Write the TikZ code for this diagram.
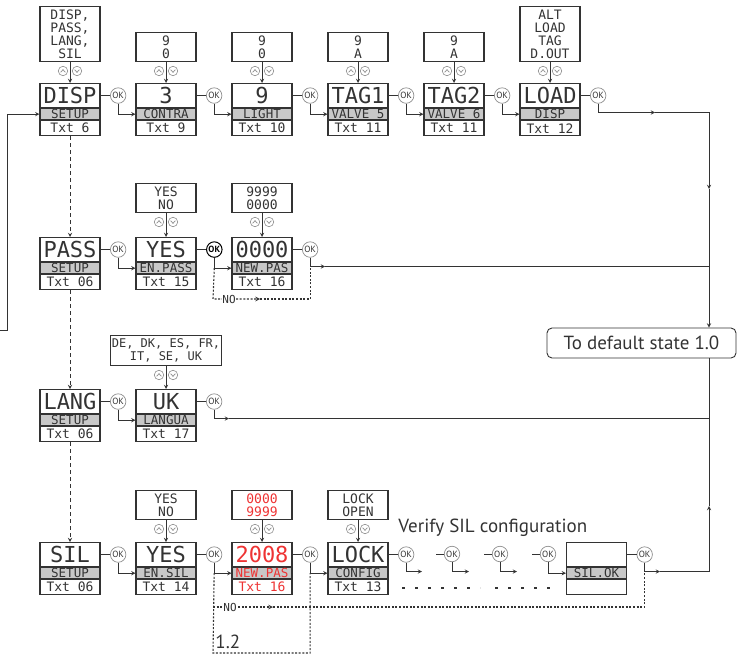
\documentclass[tikz,border=0pt]{standalone}
\usepackage{fontspec}
\setmainfont{PT Sans}
\newfontfamily\lcd{DejaVu Sans Mono}
\usepackage{tikz}
\usetikzlibrary{positioning}
\definecolor{ink}{HTML}{333333}
\definecolor{bandgray}{HTML}{C8C8C8}
\definecolor{btngray}{HTML}{8E8E8E}
\definecolor{lcdred}{HTML}{EE3333}

\newcommand{\display}[6][ink]{%
	\node[lcdtop, text=#1] (#2) at #3 {#4};
	\node[lcdband, text=#1, below=0pt of #2] (#2-b) {#5};
	\node[lcdtxt, text=#1, below=0pt of #2-b] (#2-t) {#6};
}

\begin{document}
\begin{tikzpicture}[x=1pt, y=-1pt, >=stealth, color=ink, line width=0.9pt]
	\tikzstyle{lcdtop}=[draw, line width=1.1pt, minimum width=60pt, minimum height=24pt, inner sep=0pt, anchor=north, font=\lcd\fontsize{22}{22}\selectfont]
	\tikzstyle{lcdband}=[lcdtop, fill=bandgray, minimum height=11pt, font=\lcd\fontsize{12.5}{12.5}\selectfont]
	\tikzstyle{lcdtxt}=[lcdtop, minimum height=15pt, font=\lcd\fontsize{13}{13}\selectfont]
	\tikzstyle{choice}=[draw, line width=1.1pt, minimum width=60pt, inner xsep=1pt, inner ysep=3pt, align=center, font=\lcd\fontsize{13}{13}\selectfont]
	\tikzstyle{ok}=[circle, draw=btngray, line width=0.7pt, fill=white, minimum size=15.5pt, inner sep=0pt, font=\fontsize{9}{9}\selectfont]
	\tikzstyle{okdark}=[ok, draw=black, line width=1pt, text=black, font=\bfseries\fontsize{9}{9}\selectfont]
	\tikzstyle{btn}=[circle, draw=btngray, line width=0.6pt, fill=white, minimum size=9.5pt, inner sep=0pt]
	\tikzstyle{chevron}=[btngray, line width=0.7pt]
	\tikzstyle{vdash}=[dash pattern=on 4pt off 3pt]
	\tikzstyle{nopath}=[line width=1.1pt, dash pattern=on 2pt off 1.6pt]
	\tikzstyle{dotrow}=[line width=2.6pt, dash pattern=on 2.6pt off 10.4pt]
	\tikzstyle{nolabel}=[fill=white, inner sep=0.5pt, font=\lcd\fontsize{11}{11}\selectfont]
	\tikzstyle{note}=[anchor=base west, inner sep=0pt, font=\fontsize{19}{19}\selectfont]
	\tikzstyle{dflt}=[draw, rounded corners=5pt, minimum width=189pt, minimum height=30pt, font=\fontsize{19}{19}\selectfont]
	\useasboundingbox (0,0) rectangle (738,655);

	\display{disp}{(70,83)}{DISP}{SETUP}{Txt 6}
	\display{contra}{(166,83)}{3}{CONTRA}{Txt 9}
	\display{light}{(262,83)}{9}{LIGHT}{Txt 10}
	\display{tag1}{(358,83)}{TAG1}{VALVE 5}{Txt 11}
	\display{tag2}{(454,83)}{TAG2}{VALVE 6}{Txt 11}
	\display{load}{(550,83)}{LOAD}{DISP}{Txt 12}

	\display{pass}{(70,237)}{PASS}{SETUP}{Txt 06}
	\display{yesp}{(166,237)}{YES}{EN.PASS}{Txt 15}
	\display{npas}{(262,237)}{0000}{NEW.PAS}{Txt 16}

	\display{lang}{(70,389)}{LANG}{SETUP}{Txt 06}
	\display{uk}{(166,389)}{UK}{LANGUA}{Txt 17}

	\display{sil}{(70,542)}{SIL}{SETUP}{Txt 06}
	\display{yess}{(166,542)}{YES}{EN.SIL}{Txt 14}
	\display[lcdred]{spas}{(262,542)}{2008}{NEW.PAS}{Txt 16}
	\display{lock}{(358,542)}{LOCK}{CONFIG}{Txt 13}
	\display{silok}{(596.5,542)}{}{SIL.OK}{}

	\node[choice, above=21pt of disp] (disp-c) {DISP,\\PASS,\\LANG,\\SIL};
	\node[choice, above=21pt of contra] (contra-c) {9\\0};
	\node[choice, above=21pt of light] (light-c) {9\\0};
	\node[choice, above=21pt of tag1] (tag1-c) {9\\A};
	\node[choice, above=21pt of tag2] (tag2-c) {9\\A};
	\node[choice, above=21pt of load] (load-c) {ALT\\LOAD\\TAG\\D.OUT};
	\node[choice, above=24pt of yesp] (yesp-c) {YES\\NO};
	\node[choice, above=24pt of npas] (npas-c) {9999\\0000};
	\node[choice, font=\lcd\fontsize{12}{13}\selectfont, above=23pt of uk] (uk-c) {DE, DK, ES, FR,\\IT, SE, UK};
	\node[choice, above=22pt of yess] (yess-c) {YES\\NO};
	\node[choice, text=lcdred, above=22pt of spas] (spas-c) {0000\\9999};
	\node[choice, above=22pt of lock] (lock-c) {LOCK\\OPEN};

	\foreach \d in {disp,contra,light,tag1,tag2,load,yesp,npas,uk,yess,spas,lock} {
		\draw[->] (\d-c) -- (\d);
		\node[btn] (\d-up) at ([shift={(-7,9)}]\d-c.south) {};
		\node[btn] (\d-dn) at ([shift={(7,9)}]\d-c.south) {};
		\draw[chevron] ([shift={(-2.4,1.3)}]\d-up.center) -- ++(2.4,-2.6) -- ++(2.4,2.6);
		\draw[chevron] ([shift={(-2.4,-1.3)}]\d-dn.center) -- ++(2.4,2.6) -- ++(2.4,-2.6);
	}

	\foreach \a/\b in {disp/contra, contra/light, light/tag1, tag1/tag2, tag2/load, pass/yesp, lang/uk, sil/yess, yess/spas, spas/lock} {
		\node[ok, right=9.5pt of \a] (ok-\a) {OK};
		\draw (\a) -- (ok-\a);
		\draw[->] (ok-\a) |- (\b-b);
	}
	\node[okdark, right=9.5pt of yesp] (ok-yesp) {OK};
	\draw (yesp) -- (ok-yesp);
	\draw[->] (ok-yesp) |- (npas-b);
	\foreach \a in {load, npas, uk, lock, silok} {
		\node[ok, right=9.5pt of \a] (ok-\a) {OK};
		\draw (\a) -- (ok-\a);
	}

	\foreach \x [count=\i] in {452,500,548} {
		\node[ok] (okv\i) at (\x,554) {OK};
		\draw (okv\i.west) -- ++(-8,0);
	}
	\foreach \n/\x in {ok-lock/422, okv1/469, okv2/517} {
		\coordinate (\n-e) at (\x,571.5);
		\draw[->] (\n) |- (\n-e);
	}
	\draw[->] (okv3) |- (silok-b);
	\draw[dotrow] (402,588) -- (480,588);
	\draw[dotrow] (495,588) -- (552,588);
	\node[note] (verify) at (398,532) {Verify SIL configuration};

	\draw[->, vdash] (disp-t) -- (pass);
	\draw[->, vdash] (pass-t) -- (lang);
	\draw[->, vdash] (lang-t) -- (sil);

	\coordinate (fb) at (0,330);
	\draw[->] (fb) -- ++(7,0) |- (disp-b);

	\node[dflt] (dflt) at (641.5,343) {To default state 1.0};
	\coordinate (m1) at (655,112.5);
	\coordinate (r1) at (709,112.5);
	\coordinate (m2) at (709,189);
	\coordinate (m3) at (325,266.5);
	\coordinate (r2) at (709,266.5);
	\coordinate (m4) at (229,418.5);
	\coordinate (r3) at (709,418.5);
	\coordinate (m5) at (660,571.5);
	\coordinate (r4) at (709,571.5);
	\coordinate (m6) at (709,506);
	\draw[->] (ok-load) |- (m1);
	\draw[->] (m1) -- (r1) -- (m2);
	\draw[->] (m2) -- (m2 |- dflt.north);
	\draw[->] (ok-npas) |- (m3);
	\draw (m3) -- (r2);
	\draw[->] (ok-uk) |- (m4);
	\draw (m4) -- (r3);
	\draw[->] (ok-silok) |- (m5);
	\draw[->] (m5) -- (r4) -- (m6);
	\draw (m6) -- (m6 |- dflt.south);

	\coordinate (np1) at (213,299);
	\coordinate (np2) at (260,299);
	\draw[nopath, ->] (ok-yesp |- npas-b) -- (np1) -- (np2);
	\draw[nopath] (np2) -| (ok-npas |- npas-b);
	\node[nolabel] (nop) at (229,299) {NO};

	\coordinate (ns1) at (213,607);
	\coordinate (ns2) at (273,607);
	\coordinate (ns3) at (213,653);
	\draw[nopath] (ok-yess |- spas-b) -- (ns3) -| (ok-spas |- spas-b);
	\draw[nopath, ->] (ns1) -- (ns2);
	\draw[nopath] (ns2) -| (ok-silok |- silok-b);
	\node[nolabel] (nos) at (230,607) {NO};
	\node[note] (back) at (215,648) {1.2};
\end{tikzpicture}
\end{document}
